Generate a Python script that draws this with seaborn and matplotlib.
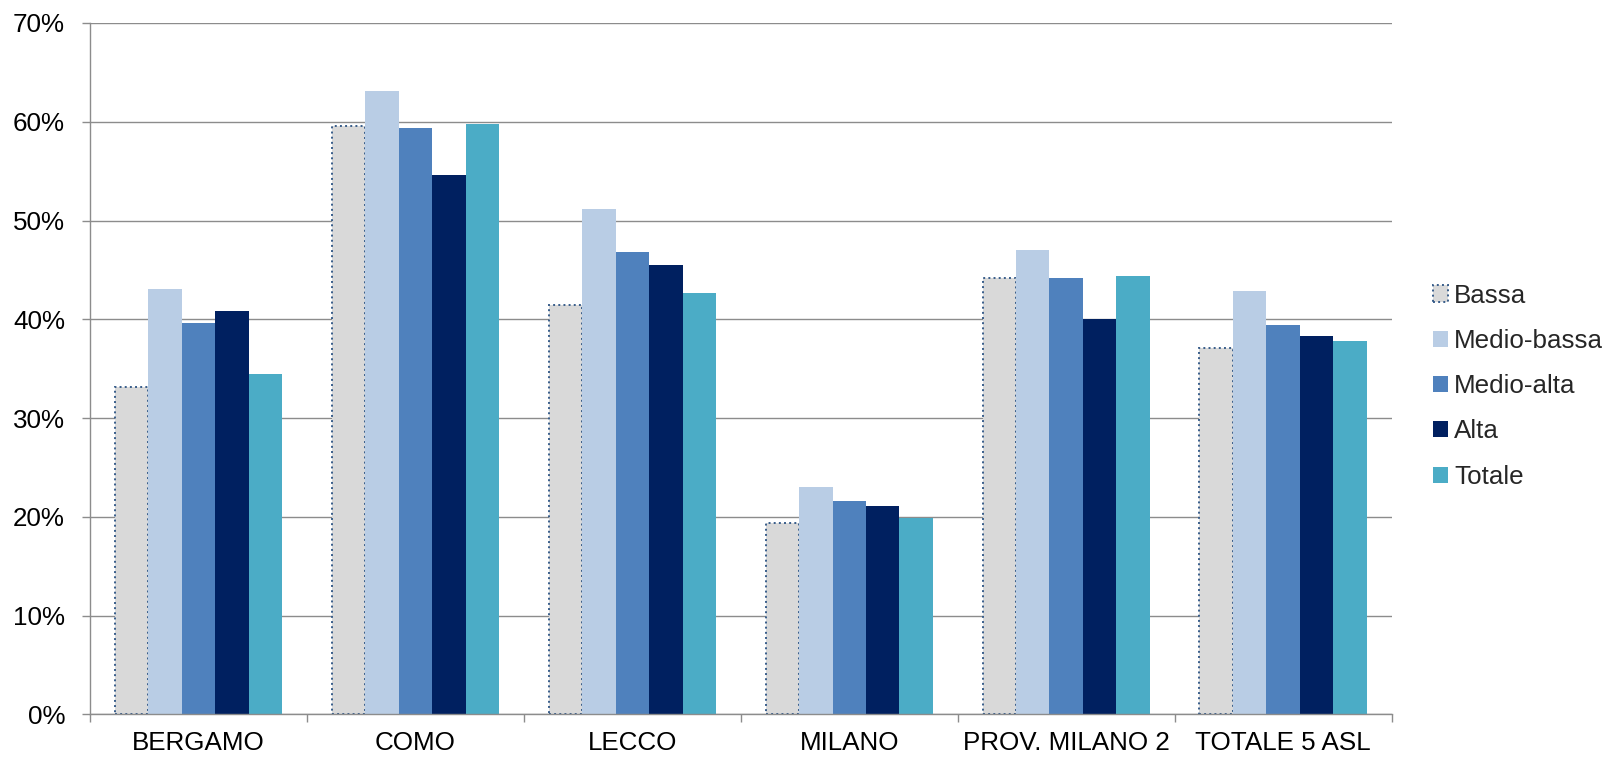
# -*- coding: utf-8 -*-
# Librerie
import pandas as pd
import matplotlib
matplotlib.use("Agg")
import matplotlib.pyplot as plt
from matplotlib.ticker import PercentFormatter, FixedLocator
import seaborn as sns

# Dati (valori in %)
asl = ["BERGAMO", "COMO", "LECCO", "MILANO", "PROV. MILANO 2", "TOTALE 5 ASL"]
classi = ["Bassa", "Medio-bassa", "Medio-alta", "Alta", "Totale"]

bassa = [33.2, 59.6, 41.5, 19.4, 44.2, 37.1]
medio_bassa = [43.1, 63.1, 51.2, 23.0, 47.0, 42.9]
medio_alta = [39.6, 59.4, 46.8, 21.6, 44.2, 39.4]
alta = [40.8, 54.6, 45.5, 21.1, 40.0, 38.3]
totale = [34.5, 59.8, 42.7, 19.9, 44.4, 37.8]

colori = ["#D9D9D9", "#B9CDE5", "#4F81BD", "#002060", "#4BACC6"]

# Tabella in formato lungo per seaborn
serie = [bassa, medio_bassa, medio_alta, alta, totale]
righe = []
for classe, valori in zip(classi, serie):
    for nome, v in zip(asl, valori):
        righe.append({"ASL": nome, "Classe": classe, "Valore": v / 100})
df = pd.DataFrame(righe)

sns.set_theme(style="white")
plt.rcParams["font.family"] = ["Liberation Sans", "DejaVu Sans"]

fig = plt.figure(figsize=(16.08, 7.58), dpi=100)
ax = fig.add_axes([0.056, 0.0574, 0.8094, 0.9123])

sns.barplot(data=df, x="ASL", y="Valore", hue="Classe", order=asl, hue_order=classi,
            palette=colori, saturation=1, width=0.771, gap=0, errorbar=None,
            linewidth=0, ax=ax, legend=True)

# Bordo tratteggiato per la serie "Bassa"
for barra in ax.containers[0]:
    barra.set_edgecolor("#385D8A")
    barra.set_linestyle(":")
    barra.set_linewidth(1.4)

# Assi e griglia
ax.set_ylim(0, 0.7)
ax.set_xlim(-0.5, len(asl) - 0.5)
ax.yaxis.set_major_locator(FixedLocator([i / 10 for i in range(8)]))
ax.yaxis.set_major_formatter(PercentFormatter(1.0, decimals=0))
ax.grid(axis="y", color="#8C8C8C", linewidth=1.0)
ax.set_axisbelow(True)
ax.set_xlabel("")
ax.set_ylabel("")

for lato in ["top", "right"]:
    ax.spines[lato].set_visible(False)
for lato in ["left", "bottom"]:
    ax.spines[lato].set_color("#8C8C8C")
    ax.spines[lato].set_linewidth(1.0)

ax.xaxis.set_minor_locator(FixedLocator([i - 0.5 for i in range(len(asl) + 1)]))
ax.tick_params(axis="x", which="major", length=0, pad=12, labelsize=18.7, colors="black")
ax.tick_params(axis="x", which="minor", length=6, width=1.0, color="#8C8C8C", direction="out", bottom=True)
ax.tick_params(axis="y", which="major", length=6, width=1.0, color="#8C8C8C", direction="out",
               left=True, pad=12, labelsize=18.7, labelcolor="black")

# Legenda a destra
leg = ax.legend(loc="center left", bbox_to_anchor=(0.891, 0.4905), bbox_transform=fig.transFigure,
                frameon=False, fontsize=18.7, borderpad=0, borderaxespad=0,
                handlelength=0.58, handleheight=0.58, handletextpad=0.25, labelspacing=0.82,
                title=None)
leg.get_patches()[0].set_edgecolor("#385D8A")
leg.get_patches()[0].set_linestyle(":")
leg.get_patches()[0].set_linewidth(1.4)

fig.savefig("out.png", dpi=100)
